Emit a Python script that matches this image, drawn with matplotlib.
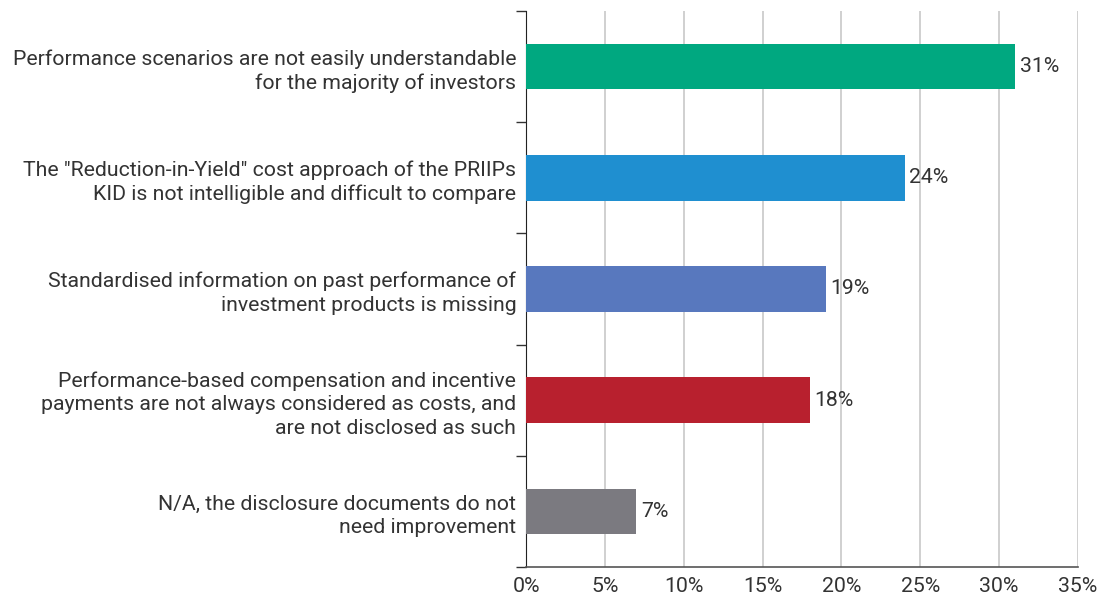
import matplotlib
matplotlib.use("Agg")
import matplotlib.pyplot as plt
from matplotlib.ticker import FixedLocator

categories = [
    "Performance scenarios are not easily understandable\nfor the majority of investors",
    "The \"Reduction-in-Yield\" cost approach of the PRIIPs\nKID is not intelligible and difficult to compare",
    "Standardised information on past performance of\ninvestment products is missing",
    "Performance-based compensation and incentive\npayments are not always considered as costs, and\nare not disclosed as such",
    "N/A, the disclosure documents do not\nneed improvement",
]
values = [31, 24, 19, 18, 7]
colors = ["#00A880", "#1F8FD0", "#5878BE", "#B8202E", "#7B7A80"]
xticks = [0, 5, 10, 15, 20, 25, 30, 35]

plt.rcParams['font.family'] = ['Roboto', 'DejaVu Sans']
text_color = "#333333"
fs = 15.3

fig = plt.figure(figsize=(11.04, 6.04), dpi=100)
ax = fig.add_axes([526/1104, 1-567/604, (1078-526)/1104, (567-11)/604])

n = len(categories)
ypos = list(range(n))
ax.barh(ypos, values, height=0.41, color=colors, zorder=3)
ax.set_ylim(n - 0.5, -0.5)
ax.set_xlim(0, 35)

for y, v in zip(ypos, values):
    ax.text(v + 0.3, y, f"{v}%", va="center", ha="left", fontsize=fs, color=text_color)

ax.set_xticks(xticks)
ax.set_xticklabels([f"{t}%" for t in xticks], fontsize=fs, color=text_color)
ax.tick_params(axis="x", length=0, pad=7)
ax.xaxis.set_minor_locator(FixedLocator([0, 35]))
ax.tick_params(axis="x", which="minor", length=6, color="#333333", width=1)
ax.grid(axis="x", color="#c8c8c8", linewidth=1.2, zorder=0)

ax.set_yticks(ypos)
ax.set_yticklabels(categories, fontsize=fs, color=text_color, linespacing=1.32)
ax.tick_params(axis="y", which="major", length=0, pad=7)
ax.yaxis.set_minor_locator(FixedLocator([i - 0.5 for i in range(n + 1)]))
ax.tick_params(axis="y", which="minor", length=7, color="#333333", width=1)

for s in ["top", "right"]:
    ax.spines[s].set_visible(False)
ax.spines["left"].set_color("#222222")
ax.spines["bottom"].set_color("#555555")
ax.spines["bottom"].set_linewidth(1.2)

fig.savefig("out.png", dpi=100, facecolor="white")
